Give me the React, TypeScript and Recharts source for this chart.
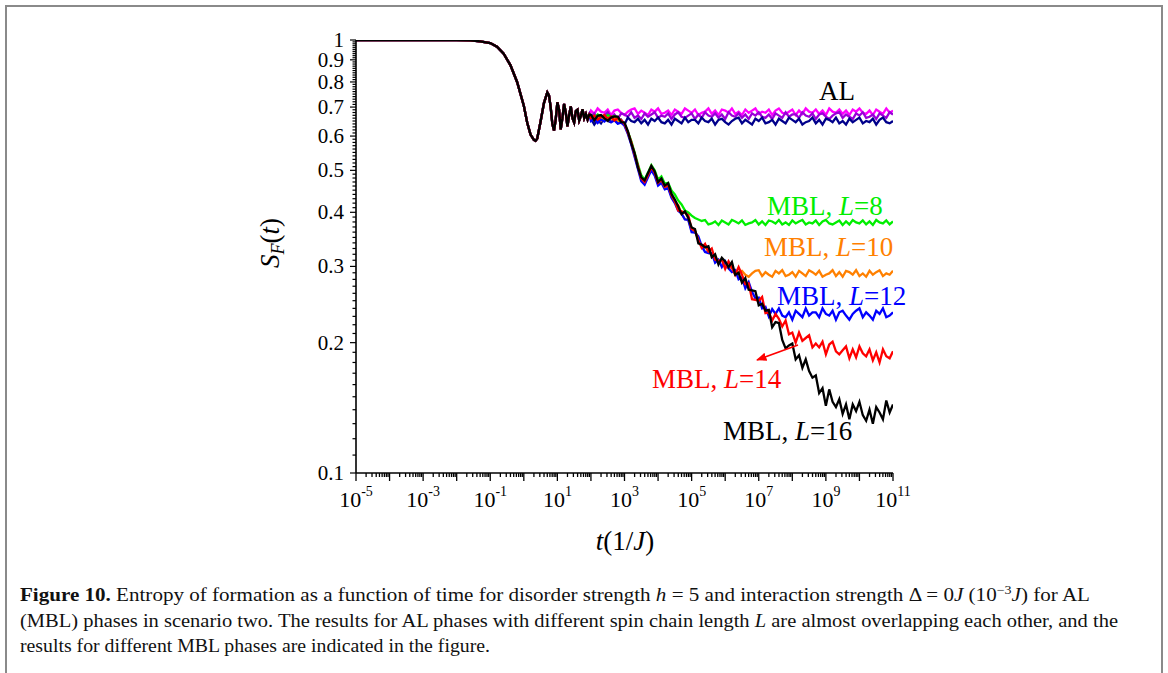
import React from 'react';
import { LineChart, Line, XAxis, YAxis } from 'recharts';

// log10(t) sampling of the shared early part (all curves overlap here)
const earlyExp = [-5, -3, -2, -1.6, -1.3, -1.0, -0.8, -0.6, -0.4, -0.2, 0.0, 0.1, 0.2, 0.3, 0.35, 0.4, 0.5, 0.6, 0.7, 0.75, 0.8, 0.85, 0.9, 0.95, 1.0, 1.05, 1.1, 1.15, 1.2, 1.25, 1.3, 1.35, 1.4, 1.45, 1.5, 1.55, 1.6, 1.65, 1.7, 1.75, 1.8, 1.85, 1.9, 1.95];
const earlyS = [1, 1, 1, 0.998, 0.993, 0.984, 0.965, 0.93, 0.875, 0.8, 0.705, 0.645, 0.605, 0.588, 0.585, 0.592, 0.648, 0.715, 0.757, 0.745, 0.7, 0.64, 0.618, 0.655, 0.718, 0.69, 0.622, 0.66, 0.712, 0.68, 0.632, 0.67, 0.702, 0.66, 0.645, 0.685, 0.69, 0.652, 0.668, 0.692, 0.66, 0.675, 0.655, 0.672];

// log10(t) sampling of the late part, where the curves split
const lateExp = [2.0, 2.1, 2.2, 2.3, 2.4, 2.5, 2.6, 2.7, 2.8, 2.9, 3.0, 3.1, 3.2, 3.3, 3.4, 3.5, 3.6, 3.7, 3.8, 3.9, 4.0, 4.1, 4.2, 4.3, 4.4, 4.5, 4.6, 4.7, 4.8, 4.9, 5.0, 5.1, 5.2, 5.3, 5.4, 5.5, 5.6, 5.7, 5.8, 5.9, 6.0, 6.1, 6.2, 6.3, 6.4, 6.5, 6.6, 6.7, 6.8, 6.9, 7.0, 7.1, 7.2, 7.3, 7.4, 7.5, 7.6, 7.7, 7.8, 7.9, 8.0, 8.1, 8.2, 8.3, 8.4, 8.5, 8.6, 8.7, 8.8, 8.9, 9.0, 9.1, 9.2, 9.3, 9.4, 9.5, 9.6, 9.7, 9.8, 9.9, 10.0, 10.1, 10.2, 10.3, 10.4, 10.5, 10.6, 10.7, 10.8, 10.9, 11.0];

// AL phases (different L, nearly on top of each other)
const alMagenta = [0.687, 0.675, 0.695, 0.683, 0.679, 0.691, 0.671, 0.687, 0.691, 0.679,
  0.671, 0.683, 0.691, 0.695, 0.675, 0.687, 0.679, 0.671, 0.691, 0.683,
  0.695, 0.675, 0.679, 0.687, 0.671, 0.691, 0.683, 0.675, 0.695, 0.687,
  0.679, 0.691, 0.671, 0.679, 0.683, 0.695, 0.675, 0.687, 0.671, 0.691,
  0.687, 0.679, 0.695, 0.675, 0.683, 0.671, 0.691, 0.679, 0.687, 0.695,
  0.675, 0.683, 0.679, 0.691, 0.671, 0.687, 0.695, 0.679, 0.675, 0.683,
  0.691, 0.671, 0.687, 0.675, 0.695, 0.683, 0.679, 0.691, 0.675, 0.687,
  0.671, 0.695, 0.683, 0.679, 0.691, 0.675, 0.687, 0.671, 0.691, 0.683,
  0.695, 0.679, 0.675, 0.687, 0.671, 0.691, 0.683, 0.675, 0.695, 0.679,
  0.687];
const alPurple = [0.665, 0.677, 0.657, 0.665, 0.669, 0.681, 0.661, 0.673, 0.657, 0.677,
  0.673, 0.665, 0.681, 0.661, 0.669, 0.657, 0.677, 0.665, 0.673, 0.681,
  0.661, 0.669, 0.665, 0.677, 0.657, 0.673, 0.681, 0.665, 0.661, 0.669,
  0.677, 0.657, 0.673, 0.661, 0.681, 0.669, 0.665, 0.677, 0.661, 0.673,
  0.657, 0.681, 0.669, 0.665, 0.677, 0.661, 0.673, 0.657, 0.677, 0.669,
  0.681, 0.665, 0.661, 0.673, 0.657, 0.677, 0.669, 0.661, 0.681, 0.665,
  0.673,
  0.673, 0.661, 0.681, 0.669, 0.665, 0.677, 0.657, 0.673, 0.677, 0.665,
  0.657, 0.669, 0.677, 0.681, 0.661, 0.673, 0.665, 0.657, 0.677, 0.669,
  0.681, 0.661, 0.665, 0.673, 0.657, 0.677, 0.669, 0.661, 0.681, 0.673];
const alNavy = [0.658, 0.638, 0.654, 0.642, 0.662, 0.650, 0.646, 0.658, 0.642, 0.654,
  0.638, 0.662, 0.650, 0.646, 0.658, 0.642, 0.654, 0.638, 0.658, 0.650,
  0.662, 0.646, 0.642, 0.654, 0.638, 0.658, 0.650, 0.642, 0.662, 0.646,
  0.654,
  0.654, 0.642, 0.662, 0.650, 0.646, 0.658, 0.638, 0.654, 0.658, 0.646,
  0.638, 0.650, 0.658, 0.662, 0.642, 0.654, 0.646, 0.638, 0.658, 0.650,
  0.662, 0.642, 0.646, 0.654, 0.638, 0.658, 0.650, 0.642, 0.662, 0.654,
  0.646, 0.658, 0.638, 0.646, 0.650, 0.662, 0.642, 0.654, 0.638, 0.658,
  0.654, 0.646, 0.662, 0.642, 0.650, 0.638, 0.658, 0.646, 0.654, 0.662,
  0.642, 0.650, 0.646, 0.658, 0.638, 0.654, 0.662, 0.646, 0.642, 0.650];

// MBL phases
const mbl8 = [0.670, 0.661, 0.673, 0.666, 0.659, 0.671, 0.663, 0.667, 0.656, 0.649, 0.638,
  0.614, 0.585, 0.550, 0.516, 0.487, 0.476, 0.494, 0.514, 0.500, 0.476, 0.484, 0.466, 0.468, 0.449, 0.440,
  0.426, 0.417, 0.404, 0.400, 0.393, 0.388, 0.385, 0.382,
  0.384, 0.375, 0.377, 0.381, 0.374, 0.383, 0.379, 0.375, 0.384, 0.381,
  0.377, 0.383, 0.374, 0.377, 0.379, 0.384, 0.375, 0.381, 0.374, 0.383,
  0.381, 0.377, 0.384, 0.375, 0.379, 0.374, 0.383, 0.377, 0.381, 0.384,
  0.375, 0.379, 0.377, 0.383, 0.374, 0.381, 0.384, 0.377, 0.375, 0.379,
  0.383, 0.374, 0.381, 0.375, 0.384, 0.379, 0.377, 0.383, 0.375, 0.381,
  0.374, 0.384, 0.379, 0.377, 0.383, 0.375, 0.381];
const mbl10 = [0.658, 0.654, 0.666, 0.651, 0.662, 0.656, 0.649, 0.661, 0.648, 0.646, 0.637,
  0.610, 0.577, 0.541, 0.507, 0.476, 0.467, 0.486, 0.506, 0.490, 0.465, 0.472, 0.455, 0.459, 0.435, 0.421,
  0.416, 0.397, 0.386, 0.384, 0.364, 0.362, 0.346, 0.334, 0.337, 0.322, 0.321, 0.317, 0.306, 0.312, 0.303,
  0.297, 0.299, 0.287, 0.291, 0.293, 0.287, 0.284, 0.289, 0.293, 0.294,
  0.285, 0.291, 0.287, 0.284, 0.293, 0.289, 0.294, 0.285, 0.287, 0.291,
  0.284, 0.293, 0.289, 0.285, 0.294, 0.291, 0.287, 0.293, 0.284, 0.287,
  0.289, 0.294, 0.285, 0.291, 0.284, 0.293, 0.291, 0.287, 0.294, 0.285,
  0.289, 0.284, 0.293, 0.287, 0.291, 0.294, 0.285, 0.289, 0.287, 0.293];
const mbl12 = [0.650, 0.658, 0.643, 0.655, 0.648, 0.660, 0.646, 0.652, 0.641, 0.644, 0.634,
  0.607, 0.574, 0.538, 0.504, 0.472, 0.463, 0.482, 0.500, 0.486, 0.461, 0.468, 0.452, 0.455, 0.432, 0.420,
  0.403, 0.397, 0.385, 0.384, 0.360, 0.359, 0.352, 0.334, 0.324, 0.322, 0.322, 0.306, 0.311, 0.299, 0.308,
  0.297, 0.291, 0.294, 0.280, 0.283, 0.267, 0.276, 0.262, 0.253, 0.254,
  0.240, 0.242, 0.230, 0.239, 0.233, 0.240, 0.231, 0.229, 0.235, 0.226,
  0.237, 0.233, 0.229, 0.240, 0.231, 0.235,
  0.235, 0.229, 0.240, 0.233, 0.231, 0.237, 0.226, 0.235, 0.237, 0.231,
  0.226, 0.233, 0.237, 0.240, 0.229, 0.235, 0.231, 0.226, 0.237, 0.233,
  0.240, 0.229, 0.231, 0.235];
const mbl14 = [0.660, 0.669, 0.655, 0.664, 0.671, 0.658, 0.666, 0.652, 0.660, 0.653, 0.640,
  0.612, 0.582, 0.545, 0.512, 0.479, 0.470, 0.488, 0.510, 0.494, 0.468, 0.475, 0.458, 0.463, 0.438, 0.424,
  0.404, 0.402, 0.399, 0.394, 0.366, 0.363, 0.345, 0.331, 0.338, 0.325, 0.330, 0.311, 0.309, 0.311, 0.296,
  0.308, 0.298, 0.287, 0.299, 0.287, 0.273, 0.274, 0.252, 0.251, 0.250, 0.255, 0.234, 0.235,
  0.225, 0.233, 0.227, 0.218, 0.225, 0.209, 0.211, 0.200, 0.211, 0.202,
  0.205, 0.208, 0.195, 0.199, 0.195, 0.201, 0.188, 0.198, 0.201, 0.191,
  0.188, 0.192, 0.196, 0.184, 0.193, 0.185, 0.196, 0.189, 0.186, 0.193,
  0.182, 0.190, 0.180, 0.193, 0.186, 0.184, 0.191];
const mbl16 = [0.672, 0.652, 0.668, 0.671, 0.659, 0.651, 0.662, 0.666, 0.665, 0.646, 0.645,
  0.616, 0.578, 0.548, 0.508, 0.482, 0.474, 0.493, 0.512, 0.497, 0.470, 0.479, 0.461, 0.467, 0.441, 0.428,
  0.413, 0.396, 0.402, 0.388, 0.369, 0.366, 0.339, 0.337, 0.332, 0.334, 0.315, 0.320, 0.303, 0.314, 0.308,
  0.299, 0.307, 0.287, 0.290, 0.275, 0.282, 0.265, 0.264, 0.263, 0.244,
  0.246, 0.237, 0.238, 0.217, 0.223, 0.222, 0.203, 0.194, 0.197, 0.199,
  0.183, 0.187, 0.175, 0.183, 0.172, 0.166, 0.168, 0.153, 0.157, 0.143,
  0.156, 0.146, 0.142, 0.148, 0.137, 0.144, 0.133, 0.144, 0.139, 0.146,
  0.136, 0.132, 0.140, 0.130, 0.142, 0.138, 0.133, 0.147, 0.138, 0.144];

const series = [
  { key: 'alMagenta', values: alMagenta, color: '#ff00ff' },
  { key: 'alPurple', values: alPurple, color: '#9a00d8' },
  { key: 'alNavy', values: alNavy, color: '#00008b' },
  { key: 'mbl8', values: mbl8, color: '#00ee00' },
  { key: 'mbl10', values: mbl10, color: '#ff8000' },
  { key: 'mbl12', values: mbl12, color: '#0000ff' },
  { key: 'mbl14', values: mbl14, color: '#ff0000' },
  { key: 'mbl16', values: mbl16, color: '#000000' },
];

// axis ticks
const xDecades = [-5, -4, -3, -2, -1, 0, 1, 2, 3, 4, 5, 6, 7, 8, 9, 10, 11];
const xLabelExps = [-5, -3, -1, 1, 3, 5, 7, 9, 11];
const yMajor = [0.1, 0.2, 0.3, 0.4, 0.5, 0.6, 0.7, 0.8, 0.9, 1];
const yLabels = ['0.1', '0.2', '0.3', '0.4', '0.5', '0.6', '0.7', '0.8', '0.9', '1'];

const xTicks: number[] = [];
xDecades.forEach((e, i) => {
  xTicks.push(Math.pow(10, e));
  if (i < xDecades.length - 1) {
    for (let m = 2; m <= 9; m++) xTicks.push(m * Math.pow(10, e));
  }
});
const yTicks: number[] = [];
yMajor.forEach((v, i) => {
  yTicks.push(v);
  if (i < yMajor.length - 1) {
    for (let k = 1; k <= 9; k++) yTicks.push(Math.round((v + k * 0.01) * 1000) / 1000);
  }
});

const data: any[] = [];
earlyExp.forEach((e, i) => {
  const row: any = { t: Math.pow(10, e) };
  series.forEach(s => { row[s.key] = earlyS[i]; });
  data.push(row);
});
lateExp.forEach((e, i) => {
  const row: any = { t: Math.pow(10, e) };
  series.forEach(s => { row[s.key] = s.values[i]; });
  data.push(row);
});

const FONT = '"Liberation Serif", "Times New Roman", serif';

const XTick = (props: any) => {
  const { x, y, payload } = props;
  const v = payload.value;
  const e = Math.round(Math.log10(v));
  const major = Math.abs(v / Math.pow(10, e) - 1) < 1e-6;
  const showLabel = major && xLabelExps.includes(e);
  return (
    <g>
      <line x1={x} x2={x} y1={y} y2={y + (major ? 8 : 4)} stroke="#000" strokeWidth={1.3} />
      {showLabel && (
        <text x={x} y={y + 34} textAnchor="middle" fontFamily={FONT} fontSize={22} fill="#000">
          10<tspan dy={-11} fontSize={14}>{e}</tspan>
        </text>
      )}
    </g>
  );
};

const YTick = (props: any) => {
  const { x, y, payload } = props;
  const idx = yMajor.findIndex(m => Math.abs(m - payload.value) < 1e-6);
  const major = idx >= 0;
  return (
    <g>
      <line x1={x} x2={x - (major ? 6 : 3.5)} y1={y} y2={y} stroke="#000" strokeWidth={1.2} />
      {major && (
        <text x={x - 12} y={y + 7} textAnchor="end" fontFamily={FONT} fontSize={21} fill="#000">
          {yLabels[idx]}
        </text>
      )}
    </g>
  );
};

const Label = ({ x, y, color, n }: { x: number; y: number; color: string; n: string }) => (
  <text x={x} y={y} fill={color} fontFamily={FONT} fontSize={27}>
    MBL, <tspan fontStyle="italic">L</tspan>={n}
  </text>
);

export default function App() {
  return (
    <div style={{ position: 'absolute', left: 0, top: 0, width: 1168, height: 673, background: '#fff', overflow: 'hidden' }}>
      <div style={{ position: 'absolute', left: 5, top: 5, width: 1154, height: 700, borderTop: '2px solid #8a8a8a', borderLeft: '2px solid #8a8a8a', borderRight: '2px solid #8a8a8a' }} />
      <div style={{ position: 'absolute', left: 0, top: 0 }}>
        <LineChart width={1168} height={560} data={data} margin={{ top: 40, right: 275, left: 296, bottom: 57 }}>
          <XAxis
            dataKey="t"
            type="number"
            scale="log"
            domain={[1e-5, 1e11]}
            allowDataOverflow
            ticks={xTicks}
            interval={0}
            tickSize={0}
            tickMargin={0}
            tickLine={false}
            tick={<XTick />}
            height={30}
            axisLine={{ stroke: '#000', strokeWidth: 1.6 }}
          />
          <YAxis
            type="number"
            scale="log"
            domain={[0.1, 1]}
            allowDataOverflow
            ticks={yTicks}
            interval={0}
            tickSize={0}
            tickMargin={0}
            tickLine={false}
            tick={<YTick />}
            width={60}
            axisLine={{ stroke: '#000', strokeWidth: 1.6 }}
          />
          {series.map(s => (
            <Line
              key={s.key}
              dataKey={s.key}
              type="linear"
              stroke={s.color}
              strokeWidth={2.3}
              dot={false}
              isAnimationActive={false}
            />
          ))}
        </LineChart>
      </div>
      <svg width={1168} height={673} style={{ position: 'absolute', left: 0, top: 0, pointerEvents: 'none' }}>
        <defs>
          <marker id="arrowRed" viewBox="0 0 10 10" refX="9" refY="5" markerWidth="7" markerHeight="7" orient="auto">
            <path d="M0,1 L10,5 L0,9 z" fill="#ff0000" />
          </marker>
        </defs>
        <text x={819} y={100} fill="#000" fontFamily={FONT} fontSize={27}>AL</text>
        <Label x={767} y={215} color="#00ee00" n="8" />
        <Label x={764} y={256} color="#ff8000" n="10" />
        <Label x={777} y={305} color="#0000ff" n="12" />
        <Label x={652} y={388} color="#ff0000" n="14" />
        <Label x={723} y={440} color="#000000" n="16" />
        <line x1={798} y1={345} x2={757} y2={360} stroke="#ff0000" strokeWidth={1.5} markerEnd="url(#arrowRed)" />

        <text x={625} y={550} textAnchor="middle" fontFamily={FONT} fontSize={27} fill="#000">
          <tspan fontStyle="italic">t</tspan>(1/<tspan fontStyle="italic">J</tspan>)
        </text>
        <text transform="rotate(-90 279 243)" x={279} y={243} textAnchor="middle" fontFamily={FONT} fontSize={27} fill="#000">
          <tspan fontStyle="italic">S</tspan><tspan fontStyle="italic" fontSize={18} dy={5}>F</tspan><tspan dy={-5}>(</tspan><tspan fontStyle="italic">t</tspan>)
        </text>

        <text x={20} y={601} fontFamily={FONT} fontSize={18} fill="#111" textLength={1070} lengthAdjust="spacingAndGlyphs">
          <tspan fontWeight="bold">Figure 10.</tspan> Entropy of formation as a function of time for disorder strength <tspan fontStyle="italic">h</tspan> = 5 and interaction strength Δ = 0<tspan fontStyle="italic">J</tspan> (10<tspan dy={-7} fontSize={12}>−3</tspan><tspan dy={7} fontStyle="italic">J</tspan>) for AL
        </text>
        <text x={20} y={627} fontFamily={FONT} fontSize={18} fill="#111" textLength={1098} lengthAdjust="spacingAndGlyphs">
          (MBL) phases in scenario two. The results for AL phases with different spin chain length <tspan fontStyle="italic">L</tspan> are almost overlapping each other, and the
        </text>
        <text x={20} y={652} fontFamily={FONT} fontSize={18} fill="#111" textLength={470} lengthAdjust="spacingAndGlyphs">
          results for different MBL phases are indicated in the figure.
        </text>
      </svg>
    </div>
  );
}
